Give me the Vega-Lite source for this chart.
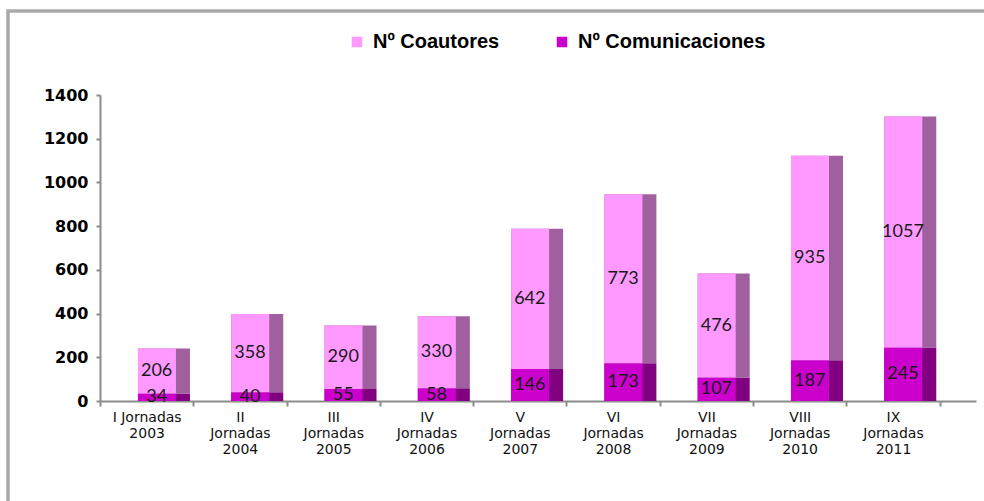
{
  "$schema": "https://vega.github.io/schema/vega-lite/v6.json",
  "autosize": {"type": "none"},
  "width": 876,
  "height": 306,
  "padding": {"left": 100, "top": 95, "right": 8, "bottom": 100},
  "background": "white",
  "data": {
    "values": [
      {"edicion": "I Jornadas|2003", "serie": "Nº Comunicaciones", "valor": 34},
      {"edicion": "I Jornadas|2003", "serie": "Nº Coautores", "valor": 206},
      {"edicion": "II|Jornadas|2004", "serie": "Nº Comunicaciones", "valor": 40},
      {"edicion": "II|Jornadas|2004", "serie": "Nº Coautores", "valor": 358},
      {"edicion": "III|Jornadas|2005", "serie": "Nº Comunicaciones", "valor": 55},
      {"edicion": "III|Jornadas|2005", "serie": "Nº Coautores", "valor": 290},
      {"edicion": "IV|Jornadas|2006", "serie": "Nº Comunicaciones", "valor": 58},
      {"edicion": "IV|Jornadas|2006", "serie": "Nº Coautores", "valor": 330},
      {"edicion": "V|Jornadas|2007", "serie": "Nº Comunicaciones", "valor": 146},
      {"edicion": "V|Jornadas|2007", "serie": "Nº Coautores", "valor": 642},
      {"edicion": "VI|Jornadas|2008", "serie": "Nº Comunicaciones", "valor": 173},
      {"edicion": "VI|Jornadas|2008", "serie": "Nº Coautores", "valor": 773},
      {"edicion": "VII|Jornadas|2009", "serie": "Nº Comunicaciones", "valor": 107},
      {"edicion": "VII|Jornadas|2009", "serie": "Nº Coautores", "valor": 476},
      {"edicion": "VIII|Jornadas|2010", "serie": "Nº Comunicaciones", "valor": 187},
      {"edicion": "VIII|Jornadas|2010", "serie": "Nº Coautores", "valor": 935},
      {"edicion": "IX|Jornadas|2011", "serie": "Nº Comunicaciones", "valor": 245},
      {"edicion": "IX|Jornadas|2011", "serie": "Nº Coautores", "valor": 1057}
    ]
  },
  "encoding": {
    "x": {
      "field": "edicion",
      "type": "nominal",
      "sort": null,
      "scale": {"paddingInner": 0, "paddingOuter": 0.195, "align": 0},
      "axis": {
        "title": null,
        "labelAngle": 0,
        "labelExpr": "split(datum.label, '|')",
        "labelFont": "DejaVu Sans",
        "labelFontSize": 14,
        "labelLineHeight": 16,
        "labelColor": "#111111",
        "labelPadding": 4,
        "labelBaseline": "top",
        "tickBand": "extent",
        "tickSize": 5,
        "tickColor": "#8c8c8c",
        "tickWidth": 2,
        "domainColor": "#8c8c8c",
        "domainWidth": 2,
        "grid": false
      }
    }
  },
  "layer": [
    {
      "mark": {"type": "bar", "width": 52, "xOffset": 17.3},
      "encoding": {
        "y": {
          "field": "valor",
          "type": "quantitative",
          "stack": "zero",
          "scale": {"domain": [0, 1400], "nice": false},
          "axis": {
            "title": null,
            "format": "d",
            "values": [0, 200, 400, 600, 800, 1000, 1200, 1400],
            "labelFont": "DejaVu Sans",
            "labelFontWeight": "bold",
            "labelFontSize": 16,
            "labelColor": "#000000",
            "labelPadding": 8,
            "tickSize": 4,
            "tickColor": "#8c8c8c",
            "tickWidth": 2,
            "domainColor": "#8c8c8c",
            "domainWidth": 2,
            "grid": false
          }
        },
        "color": {
          "field": "serie",
          "type": "nominal",
          "scale": {"domain": ["Nº Coautores", "Nº Comunicaciones"], "range": ["#a0609f", "#800080"]},
          "legend": {
            "orient": "none",
            "legendX": -92,
            "legendY": -84,
            "padding": 700,
            "strokeColor": "#a9a9a9",
            "title": null,
            "symbolOpacity": 0,
            "symbolSize": 0,
            "labelOpacity": 0,
            "labelExpr": "''"
          }
        },
        "order": {"field": "serie", "sort": "descending"}
      }
    },
    {
      "mark": {"type": "bar", "width": 38, "xOffset": 10.3},
      "encoding": {
        "y": {"field": "valor", "type": "quantitative", "stack": "zero"},
        "color": {
          "field": "serie",
          "type": "nominal",
          "scale": {"domain": ["Nº Coautores", "Nº Comunicaciones"], "range": ["#ff99ff", "#cc00cc"]},
          "legend": {
            "orient": "none",
            "legendX": 247,
            "legendY": -63,
            "direction": "horizontal",
            "title": null,
            "padding": 0,
            "symbolType": "square",
            "symbolSize": 110,
            "symbolStrokeWidth": 0,
            "labelFont": "Liberation Sans",
            "labelFontWeight": "bold",
            "labelFontSize": 20,
            "labelColor": "#000000",
            "labelOffset": 6,
            "labelLimit": 400,
            "columnPadding": 52
          }
        },
        "order": {"field": "serie", "sort": "descending"}
      }
    },
    {
      "transform": [
        {"stack": "valor", "groupby": ["edicion"], "sort": [{"field": "serie", "order": "descending"}], "as": ["v0", "v1"]},
        {"fold": ["v0", "v1"], "as": ["extremo", "pos"]},
        {"aggregate": [{"op": "mean", "field": "pos", "as": "medio"}], "groupby": ["edicion", "serie", "valor"]}
      ],
      "mark": {"type": "text", "xOffset": 10, "font": "Lato", "fontSize": 18, "color": "#1a1a1a", "baseline": "middle"},
      "encoding": {
        "y": {"field": "medio", "type": "quantitative"},
        "text": {"field": "valor", "type": "quantitative"}
      }
    }
  ],
  "resolve": {"scale": {"color": "independent"}, "legend": {"color": "independent"}},
  "config": {
    "view": {"stroke": null},
    "legend": {"strokeWidth": 3.5}
  }
}
